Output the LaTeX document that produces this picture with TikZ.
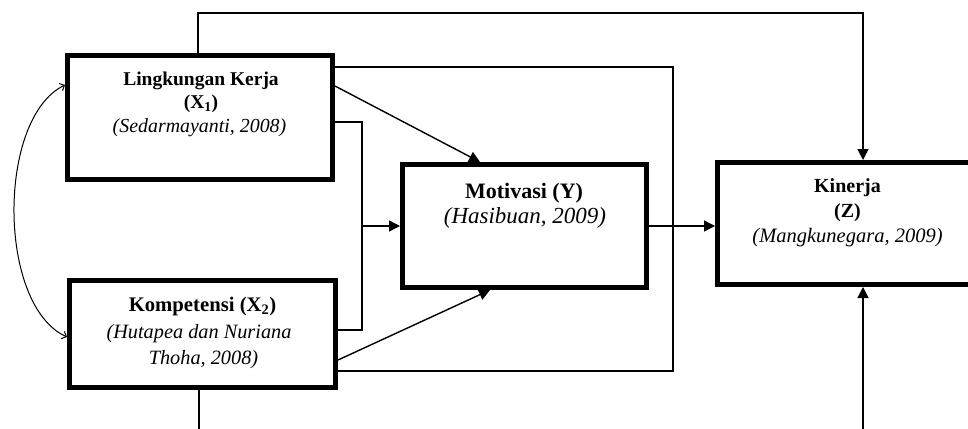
\documentclass[tikz,border=0pt]{standalone}
\usepackage{fontspec}
\setmainfont{Liberation Serif}
\usetikzlibrary{arrows.meta}
\begin{document}
\begin{tikzpicture}[x=1pt,y=-1pt,
  box/.style={draw, line width=5pt, inner sep=0pt},
  bt/.style={anchor=base, inner sep=0pt, font=\fontsize{#1}{22}\selectfont\bfseries},
  it/.style={anchor=base, inner sep=0pt, font=\fontsize{#1}{22}\selectfont\itshape},
  conn/.style={line width=1.4pt},
  arr/.style={conn, -{Triangle[length=11pt,width=11pt]}},
  barb/.style={line width=1pt, {Straight Barb[length=4pt,width=8pt]}-{Straight Barb[length=4pt,width=8pt]}}]
\useasboundingbox (0,0) rectangle (968,428);
\clip (0,0) rectangle (968,428);

% boxes
\node[box, minimum width=265pt, minimum height=124pt] (x1) at (200,117.5) {};
\node[box, minimum width=266pt, minimum height=107pt] (x2) at (202.5,334) {};
\node[box, minimum width=244pt, minimum height=123pt] (y) at (524.5,226) {};
\node[box, minimum width=260pt, minimum height=122pt] (z) at (847.5,223.5) {};

% texts
\node[bt=19.5] (x1a) at (201,85) {Lingkungan Kerja};
\node[bt=19.5] (x1b) at (201,108.5) {(X\textsubscript{1})};
\node[it=19.9] (x1c) at (199.5,132) {(Sedarmayanti, 2008)};

\node[bt=20.7] (x2a) at (202.5,311) {Kompetensi (X\textsubscript{2})};
\node[it=20.3] (x2b) at (199,338) {(Hutapea dan Nuriana};
\node[it=20.3] (x2c) at (203.5,364) {Thoha, 2008)};

\node[bt=22] (ya) at (524,198) {Motivasi (Y)};
\node[it=23] (yb) at (525,223) {(Hasibuan, 2009)};

\node[bt=20] (za) at (847.5,192) {Kinerja};
\node[bt=20] (zb) at (847.5,217) {(Z)};
\node[it=20.5] (zc) at (847.5,242) {(Mangkunegara, 2009)};

% helper coordinates
\coordinate (t1) at (198,13);
\coordinate (t2) at (863,13);
\coordinate (r1) at (673,67);
\coordinate (r2) at (673,371);
\coordinate (d1) at (480,86);
\coordinate (d2) at (490,360);
\coordinate (k1) at (362,122);
\coordinate (k2) at (362,330);
\coordinate (b1) at (199,445);
\coordinate (b2) at (863,445);
\coordinate (c0) at (0,85);
\coordinate (c3) at (0,337);

% connectors
\draw[arr] (x1.north -| t1) -- (t1) -- (t2) -- (z.north -| t2);
\draw[conn] (x1.east |- r1) -- (r1) -- (r2) -- (x2.east |- r2);
\draw[arr] (x1.east |- d1) -- (y.north -| d1);
\draw[arr] (x2.east |- d2) -- (y.south -| d2);
\draw[conn] (x1.east |- k1) -- (k1) -- (k2) -- (x2.east |- k2);
\draw[arr] (k1 |- y.west) -- (y.west);
\draw[arr] (y.east) -- (z.west |- y.east);
\draw[arr] (x2.south -| b1) -- (b1) -- (b2) -- (z.south -| b2);
\draw[barb] (x1.west |- c0) .. controls (-3,118) and (-3,305) .. (x2.west |- c3);
\end{tikzpicture}
\end{document}
